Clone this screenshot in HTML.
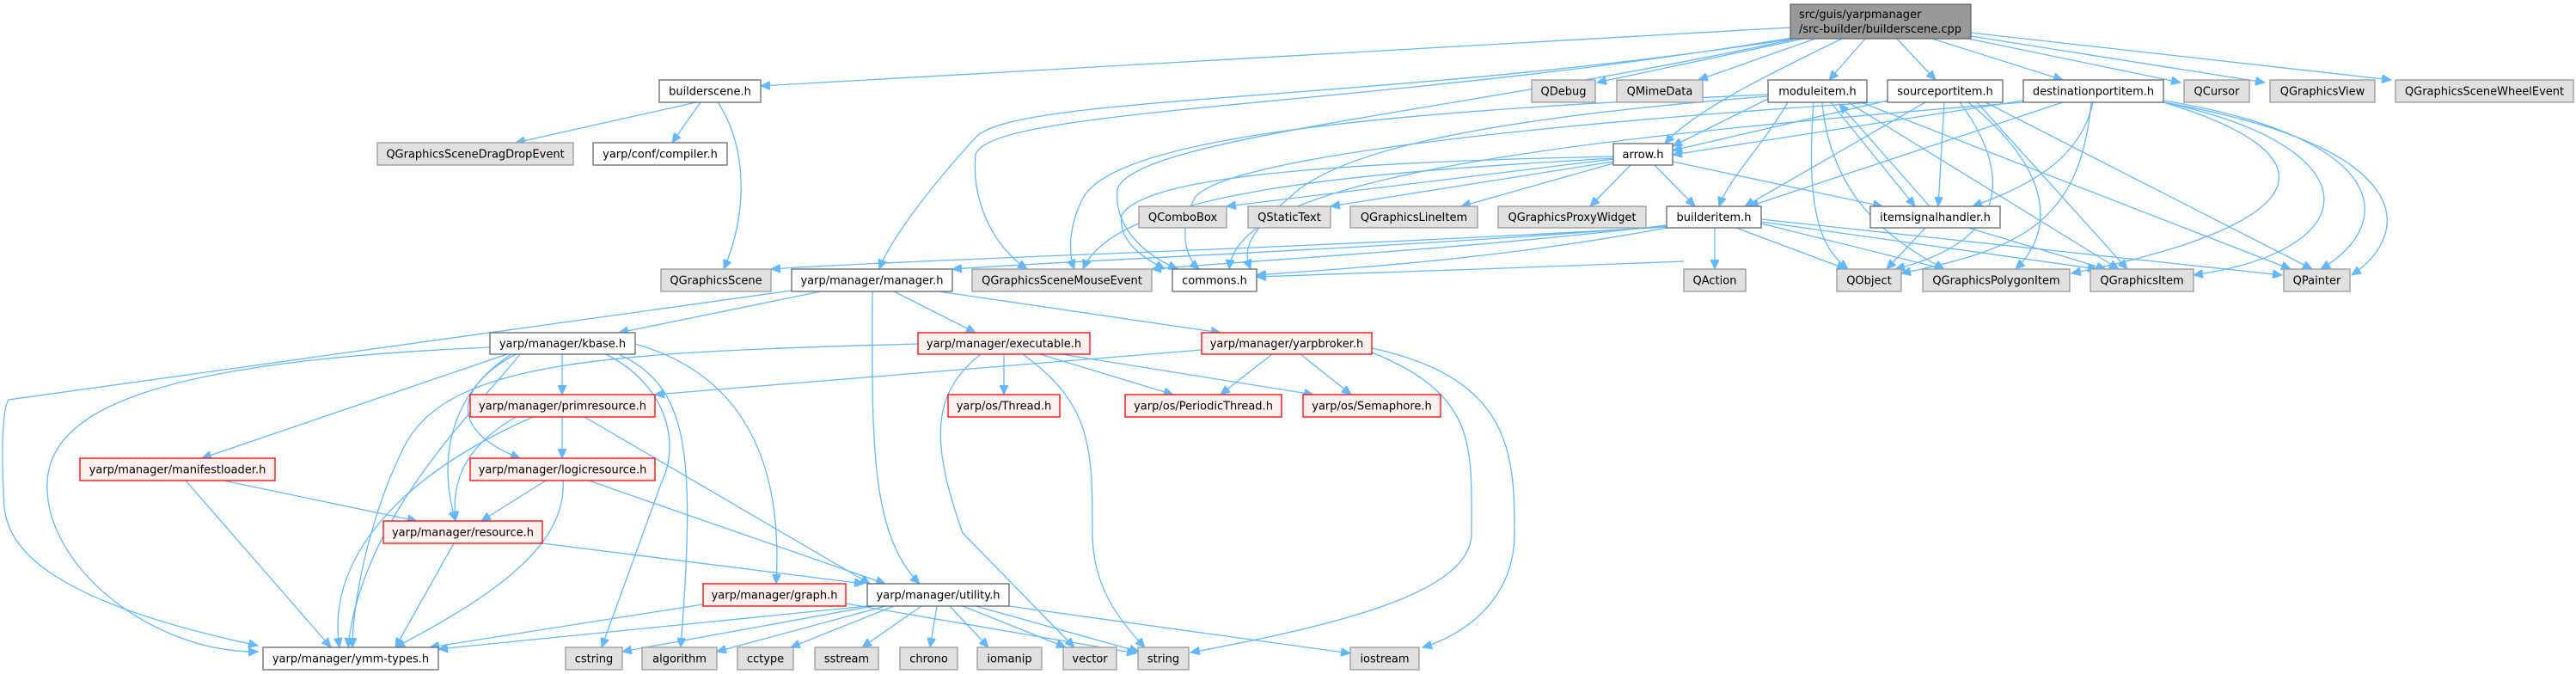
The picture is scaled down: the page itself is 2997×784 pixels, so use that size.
<!DOCTYPE html>
<html><head><meta charset="utf-8"><style>
html,body{margin:0;padding:0;background:#fff;}
svg{display:block;}
text{font-family:"DejaVu Sans","Liberation Sans",sans-serif;font-size:13px;fill:#000;}
.e{fill:none;stroke:#63b8ff;stroke-width:1.3;marker-end:url(#ah);}
.W{fill:#fff;stroke:#666;stroke-width:1.3;}
.G{fill:#e0e0e0;stroke:#999;stroke-width:1.3;}
.R{fill:#fff0f0;stroke:#ff0000;stroke-width:1.3;}
.C{fill:#999;stroke:#666;stroke-width:1.3;}
</style></head><body>
<svg width="2997" height="784" viewBox="0 0 2997 784" xmlns="http://www.w3.org/2000/svg">
<defs><marker id="ah" markerUnits="userSpaceOnUse" markerWidth="12" markerHeight="10" refX="11" refY="5" orient="auto"><path d="M0,0 L11,5 L0,10 z" fill="#63b8ff" stroke="#63b8ff"/></marker></defs>
<g>
<!-- cpp edges -->
<path class="e" d="M2083,32 L885,100"/>
<path class="e" d="M2098,45 L1858,96"/>
<path class="e" d="M2112,45 L1976,93"/>
<path class="e" d="M2170,45 L2128,93"/>
<path class="e" d="M2207,45 L2252,93"/>
<path class="e" d="M2248,45 L2400,93"/>
<path class="e" d="M2290,45 L2537,96"/>
<path class="e" d="M2293,42 L2635,96"/>
<path class="e" d="M2293,38 L2782,93"/>
<path class="e" d="M2143,45 C2050,90 1970,130 1937,167"/>
<path class="e" d="M2088,45 C1600,120 1180,110 1135,160 C1080,220 1035,280 1023,313"/>
<path class="e" d="M2085,44 C1600,125 1150,125 1135,180 C1130,240 1160,290 1195,313"/>
<path class="e" d="M2090,45 C1700,130 1320,160 1300,220 C1295,270 1340,300 1370,313"/>
<!-- moduleitem -->
<path class="e" d="M2057,115 L1946,170"/>
<path class="e" d="M2080,119 C2050,170 2010,210 2000,240"/>
<path class="e" d="M2130,119 L2228,240"/>
<path class="e" d="M2245,240 L2140,121"/>
<path class="e" d="M2110,119 C2100,250 2120,290 2150,313"/>
<path class="e" d="M2120,119 C2130,230 2200,280 2262,313"/>
<path class="e" d="M2150,119 L2465,313"/>
<path class="e" d="M2165,119 L2665,313"/>
<path class="e" d="M2057,112 C1700,140 1550,180 1500,230 C1440,280 1450,300 1455,313"/>
<path class="e" d="M2057,110 C1600,130 1300,160 1260,230 C1240,270 1245,300 1250,313"/>
<!-- sourceportitem -->
<path class="e" d="M2196,117 L1946,175"/>
<path class="e" d="M2240,119 L2030,240"/>
<path class="e" d="M2262,119 L2255,240"/>
<path class="e" d="M2280,119 C2340,200 2340,280 2205,313"/>
<path class="e" d="M2290,119 C2390,200 2390,270 2345,313"/>
<path class="e" d="M2300,119 L2475,313"/>
<path class="e" d="M2310,119 L2690,313"/>
<path class="e" d="M2196,118 C1700,150 1420,190 1390,230 C1370,270 1380,300 1395,313"/>
<!-- destinationportitem -->
<path class="e" d="M2354,117 L1946,180"/>
<path class="e" d="M2400,119 L2035,240"/>
<path class="e" d="M2435,119 C2420,190 2350,220 2295,240"/>
<path class="e" d="M2433,119 C2420,260 2350,290 2212,318"/>
<path class="e" d="M2517,119 C2720,180 2700,260 2410,318"/>
<path class="e" d="M2517,119 C2760,170 2760,290 2552,320"/>
<path class="e" d="M2517,119 C2810,170 2810,270 2736,320"/>
<path class="e" d="M2517,117 C2780,160 2790,260 2700,313"/>
<path class="e" d="M2354,119 C1700,170 1440,220 1430,313"/>
<!-- arrow.h -->
<path class="e" d="M1877,185 L1427,240"/>
<path class="e" d="M1877,188 L1548,240"/>
<path class="e" d="M1877,190 L1700,240"/>
<path class="e" d="M1897,192 L1850,240"/>
<path class="e" d="M1925,192 L1972,240"/>
<path class="e" d="M1946,188 L2190,240"/>
<path class="e" d="M1877,182 C1500,190 1330,210 1305,250 C1300,280 1330,300 1355,313"/>
<path class="e" d="M1877,184 C1600,200 1300,220 1260,313"/>
<!-- builderitem -->
<path class="e" d="M1939,264 C1500,290 1100,300 897,313"/>
<path class="e" d="M1939,263 C1600,290 1300,300 1108,313"/>
<path class="e" d="M1939,262 C1700,290 1500,300 1340,313"/>
<path class="e" d="M1939,265 C1750,300 1600,310 1462,320"/>
<path class="e" d="M1995,265 L1995,313"/>
<path class="e" d="M2020,265 L2148,313"/>
<path class="e" d="M2049,260 L2262,313"/>
<path class="e" d="M2049,258 L2440,313"/>
<path class="e" d="M2049,255 L2655,320"/>
<path class="e" d="M1959,304 C1800,310 1600,318 1462,322"/>
<!-- itemsignalhandler -->
<path class="e" d="M2240,265 L2195,313"/>
<path class="e" d="M2290,265 L2450,313"/>
<!-- builderscene.h -->
<path class="e" d="M810,119 L600,166"/>
<path class="e" d="M815,119 L782,166"/>
<path class="e" d="M835,119 C870,170 870,250 842,313"/>
<!-- manager.h -->
<path class="e" d="M955,339 L720,387"/>
<path class="e" d="M1040,339 L1135,387"/>
<path class="e" d="M1092,339 L1420,387"/>
<path class="e" d="M1015,339 C1015,500 1010,620 1070,679"/>
<path class="e" d="M921,338 L10,465 C0,480 3,560 5,590 C10,640 60,700 300,751"/>
<!-- kbase -->
<path class="e" d="M570,404 C200,420 60,470 55,560 C50,660 180,760 300,758"/>
<path class="e" d="M590,412 L235,533"/>
<path class="e" d="M654,412 L654,459"/>
<path class="e" d="M600,412 C530,450 520,500 605,533"/>
<path class="e" d="M595,412 C520,460 510,540 530,606"/>
<path class="e" d="M605,412 C560,470 420,600 405,753"/>
<path class="e" d="M705,412 C780,450 790,520 770,560 L700,753"/>
<path class="e" d="M720,412 C800,450 810,520 792,753"/>
<path class="e" d="M739,400 C880,440 910,560 903,679"/>
<!-- primresource -->
<path class="e" d="M654,485 L654,533"/>
<path class="e" d="M600,485 C540,520 525,560 530,606"/>
<path class="e" d="M620,485 C450,560 380,660 395,753"/>
<path class="e" d="M680,485 L1012,679"/>
<path class="e" d="M1398,407 L762,459"/>
<!-- logicresource -->
<path class="e" d="M635,559 L560,606"/>
<path class="e" d="M655,559 C660,640 560,700 460,753"/>
<path class="e" d="M685,559 L1030,679"/>
<!-- manifestloader -->
<path class="e" d="M260,559 L485,606"/>
<path class="e" d="M216,559 L385,753"/>
<!-- resource -->
<path class="e" d="M528,632 L460,753"/>
<path class="e" d="M631,632 L1005,679"/>
<!-- graph -->
<path class="e" d="M818,703 L500,753"/>
<path class="e" d="M984,702 L1322,760"/>
<!-- utility -->
<path class="e" d="M1009,705 L510,755"/>
<path class="e" d="M1015,705 L724,758"/>
<path class="e" d="M1030,705 L834,758"/>
<path class="e" d="M1040,705 L920,753"/>
<path class="e" d="M1072,705 L1003,753"/>
<path class="e" d="M1090,705 L1082,753"/>
<path class="e" d="M1105,705 L1150,753"/>
<path class="e" d="M1120,705 L1240,753"/>
<path class="e" d="M1135,705 L1325,758"/>
<path class="e" d="M1174,705 L1571,760"/>
<!-- executable -->
<path class="e" d="M1168,412 L1168,459"/>
<path class="e" d="M1210,412 L1365,459"/>
<path class="e" d="M1235,412 L1528,459"/>
<path class="e" d="M1141,412 C1080,460 1085,520 1120,620 L1250,753"/>
<path class="e" d="M1190,412 C1270,470 1271,520 1271,620 C1271,680 1300,720 1332,753"/>
<path class="e" d="M1068,400 C700,410 520,420 470,520 C430,600 410,700 410,753"/>
<!-- yarpbroker -->
<path class="e" d="M1480,412 L1420,459"/>
<path class="e" d="M1513,412 L1572,459"/>
<path class="e" d="M1596,410 C1720,460 1712,520 1712,620 C1712,680 1600,720 1385,759"/>
<path class="e" d="M1596,405 C1760,440 1762,530 1762,620 C1762,700 1700,740 1655,753"/>
</g>
<g>
<!-- nodes -->
<rect class="C" x="2083" y="5" width="210" height="40"/>
<text x="2093" y="21">src/guis/yarpmanager</text>
<text x="2093" y="38">/src-builder/builderscene.cpp</text>

<rect class="W" x="767" y="93" width="118" height="26"/><text x="826" y="110.5" text-anchor="middle">builderscene.h</text>
<rect class="G" x="1782" y="93" width="74" height="26"/><text x="1819" y="110.5" text-anchor="middle">QDebug</text>
<rect class="G" x="1881" y="93" width="100" height="26"/><text x="1931" y="110.5" text-anchor="middle">QMimeData</text>
<rect class="W" x="2057" y="93" width="115" height="26"/><text x="2114.5" y="110.5" text-anchor="middle">moduleitem.h</text>
<rect class="W" x="2196" y="93" width="134" height="26"/><text x="2263" y="110.5" text-anchor="middle">sourceportitem.h</text>
<rect class="W" x="2354" y="93" width="163" height="26"/><text x="2435.5" y="110.5" text-anchor="middle">destinationportitem.h</text>
<rect class="G" x="2541" y="93" width="76" height="26"/><text x="2579" y="110.5" text-anchor="middle">QCursor</text>
<rect class="G" x="2641" y="93" width="122" height="26"/><text x="2702" y="110.5" text-anchor="middle">QGraphicsView</text>
<rect class="G" x="2787" y="93" width="207" height="26"/><text x="2890.5" y="110.5" text-anchor="middle">QGraphicsSceneWheelEvent</text>

<rect class="G" x="439" y="166" width="228" height="26"/><text x="553" y="183.5" text-anchor="middle">QGraphicsSceneDragDropEvent</text>
<rect class="W" x="690" y="166" width="156" height="26"/><text x="768" y="183.5" text-anchor="middle">yarp/conf/compiler.h</text>
<rect class="W" x="1877" y="167" width="69" height="25"/><text x="1911.5" y="184" text-anchor="middle">arrow.h</text>

<rect class="G" x="1325" y="240" width="102" height="25"/><text x="1376" y="257" text-anchor="middle">QComboBox</text>
<rect class="G" x="1452" y="240" width="96" height="25"/><text x="1500" y="257" text-anchor="middle">QStaticText</text>
<rect class="G" x="1571" y="240" width="148" height="25"/><text x="1645" y="257" text-anchor="middle">QGraphicsLineItem</text>
<rect class="G" x="1743" y="240" width="172" height="25"/><text x="1829" y="257" text-anchor="middle">QGraphicsProxyWidget</text>
<rect class="W" x="1939" y="240" width="110" height="25"/><text x="1994" y="257" text-anchor="middle">builderitem.h</text>
<rect class="W" x="2176" y="240" width="151" height="25"/><text x="2251.5" y="257" text-anchor="middle">itemsignalhandler.h</text>

<rect class="G" x="769" y="313" width="128" height="26"/><text x="833" y="330.5" text-anchor="middle">QGraphicsScene</text>
<rect class="W" x="921" y="313" width="187" height="26"/><text x="1014.5" y="330.5" text-anchor="middle">yarp/manager/manager.h</text>
<rect class="G" x="1131" y="313" width="209" height="26"/><text x="1235.5" y="330.5" text-anchor="middle">QGraphicsSceneMouseEvent</text>
<rect class="W" x="1364" y="313" width="98" height="26"/><text x="1413" y="330.5" text-anchor="middle">commons.h</text>
<rect class="G" x="1959" y="313" width="72" height="26"/><text x="1995" y="330.5" text-anchor="middle">QAction</text>
<rect class="G" x="2137" y="313" width="75" height="26"/><text x="2174.5" y="330.5" text-anchor="middle">QObject</text>
<rect class="G" x="2237" y="313" width="171" height="26"/><text x="2322.5" y="330.5" text-anchor="middle">QGraphicsPolygonItem</text>
<rect class="G" x="2432" y="313" width="120" height="26"/><text x="2492" y="330.5" text-anchor="middle">QGraphicsItem</text>
<rect class="G" x="2657" y="313" width="77" height="26"/><text x="2695.5" y="330.5" text-anchor="middle">QPainter</text>

<rect class="W" x="570" y="387" width="169" height="25"/><text x="654.5" y="404" text-anchor="middle">yarp/manager/kbase.h</text>
<rect class="R" x="1068" y="387" width="200" height="25"/><text x="1168" y="404" text-anchor="middle">yarp/manager/executable.h</text>
<rect class="R" x="1398" y="387" width="198" height="25"/><text x="1497" y="404" text-anchor="middle">yarp/manager/yarpbroker.h</text>

<rect class="R" x="547" y="459" width="215" height="26"/><text x="654.5" y="476.5" text-anchor="middle">yarp/manager/primresource.h</text>
<rect class="R" x="1103" y="459" width="130" height="26"/><text x="1168" y="476.5" text-anchor="middle">yarp/os/Thread.h</text>
<rect class="R" x="1309" y="459" width="182" height="26"/><text x="1400" y="476.5" text-anchor="middle">yarp/os/PeriodicThread.h</text>
<rect class="R" x="1516" y="459" width="160" height="26"/><text x="1596" y="476.5" text-anchor="middle">yarp/os/Semaphore.h</text>

<rect class="R" x="93" y="533" width="227" height="26"/><text x="206.5" y="550.5" text-anchor="middle">yarp/manager/manifestloader.h</text>
<rect class="R" x="547" y="533" width="215" height="26"/><text x="654.5" y="550.5" text-anchor="middle">yarp/manager/logicresource.h</text>

<rect class="R" x="446" y="606" width="185" height="26"/><text x="538.5" y="623.5" text-anchor="middle">yarp/manager/resource.h</text>

<rect class="R" x="818" y="679" width="166" height="26"/><text x="901" y="696.5" text-anchor="middle">yarp/manager/graph.h</text>
<rect class="W" x="1009" y="679" width="165" height="26"/><text x="1091.5" y="696.5" text-anchor="middle">yarp/manager/utility.h</text>

<rect class="W" x="306" y="753" width="204" height="26"/><text x="408" y="770.5" text-anchor="middle">yarp/manager/ymm-types.h</text>
<rect class="G" x="658" y="753" width="66" height="26"/><text x="691" y="770.5" text-anchor="middle">cstring</text>
<rect class="G" x="747" y="753" width="87" height="26"/><text x="790.5" y="770.5" text-anchor="middle">algorithm</text>
<rect class="G" x="858" y="753" width="65" height="26"/><text x="890.5" y="770.5" text-anchor="middle">cctype</text>
<rect class="G" x="948" y="753" width="74" height="26"/><text x="985" y="770.5" text-anchor="middle">sstream</text>
<rect class="G" x="1047" y="753" width="67" height="26"/><text x="1080.5" y="770.5" text-anchor="middle">chrono</text>
<rect class="G" x="1137" y="753" width="75" height="26"/><text x="1174.5" y="770.5" text-anchor="middle">iomanip</text>
<rect class="G" x="1237" y="753" width="62" height="26"/><text x="1268" y="770.5" text-anchor="middle">vector</text>
<rect class="G" x="1324" y="753" width="59" height="26"/><text x="1353.5" y="770.5" text-anchor="middle">string</text>
<rect class="G" x="1571" y="753" width="80" height="26"/><text x="1611" y="770.5" text-anchor="middle">iostream</text>
</g>
</svg>
</body></html>
